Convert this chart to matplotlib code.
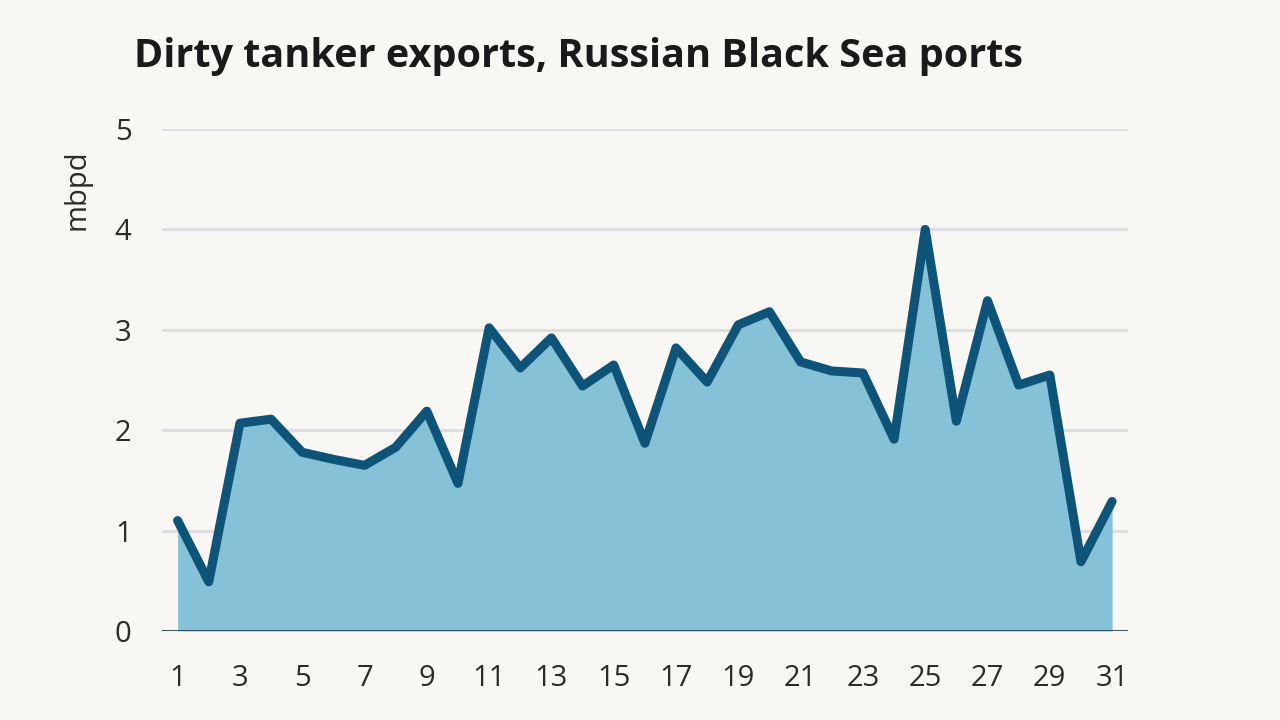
import numpy as np
import matplotlib.pyplot as plt

# Daily dirty tanker exports (mbpd)
days = list(range(1, 32))
exports = [1.10, 0.49, 2.07, 2.11, 1.78, 1.71, 1.65, 1.83, 2.19, 1.47,
           3.02, 2.62, 2.92, 2.44, 2.65, 1.87, 2.82, 2.48, 3.05, 3.18,
           2.68, 2.59, 2.57, 1.91, 4.00, 2.09, 3.29, 2.45, 2.55, 0.69,
           1.29]
y_ticks = [0, 1, 2, 3, 4, 5]
x_ticks = list(range(1, 32, 2))

bg = '#f8f7f4'
plt.rcParams['font.family'] = ['Open Sans', 'DejaVu Sans']

fig = plt.figure(figsize=(12.8, 7.2), dpi=100, facecolor=bg)
ax = fig.add_axes([0.1266, 0.1236, 0.7544, 0.6972], facecolor=bg)

ax.fill_between(days, exports, 0, color='#7fc0d6', alpha=0.95, lw=0, zorder=2)
ax.plot(days, exports, color='#0e5478', lw=6.5, solid_joinstyle='round',
        solid_capstyle='round', zorder=3)

ax.set_xlim(0.5, 31.5)
ax.set_ylim(0, 5)
ax.set_yticks(y_ticks)
ax.set_xticks(x_ticks)
ax.grid(axis='y', color='#dcdce0', lw=2, zorder=1)
ax.axhline(0, color='#2a4656', lw=2, zorder=4)

for s in ax.spines.values():
    s.set_visible(False)
ax.tick_params(length=0, labelsize=21, colors='#2b2b2b')
ax.tick_params(axis='x', pad=24)
ax.tick_params(axis='y', pad=22)

ax.set_ylabel('mbpd', fontsize=21, color='#2b2b2b')
ax.yaxis.set_label_coords(-0.073, 0.88)

fig.text(0.105, 0.922, 'Dirty tanker exports, Russian Black Sea ports',
         fontsize=28.5, fontweight='bold', color='#1a1a1a', va='center')

fig.savefig('out.png', dpi=100, facecolor=bg)
